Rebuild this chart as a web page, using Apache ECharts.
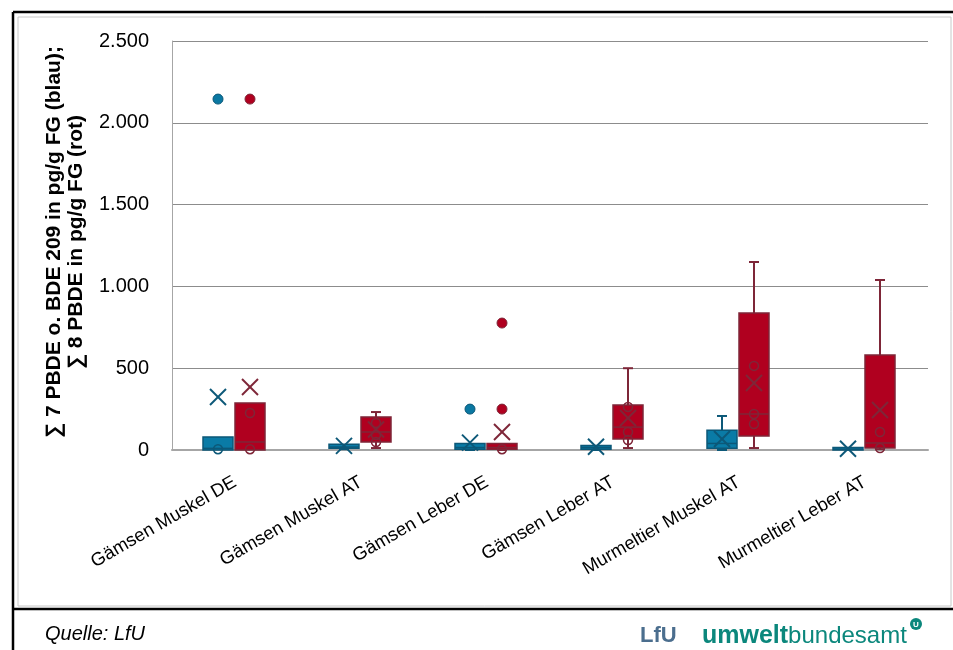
<!DOCTYPE html>
<html><head><meta charset="utf-8">
<script src="https://cdn.jsdelivr.net/npm/echarts@6/dist/echarts.min.js"></script>
<style>html,body{margin:0;padding:0;background:#fff}#c{width:953px;height:650px}</style>
</head><body><div id="c"></div>
<script>
const categories = ['Gämsen Muskel DE','Gämsen Muskel AT','Gämsen Leber DE','Gämsen Leber AT','Murmeltier Muskel AT','Murmeltier Leber AT'];
// [min, Q1, median, Q3, max]
const blueBox = [[0,0,10,80,80],[5,10,18,35,35],[0,5,15,40,40],[0,5,15,28,28],[0,10,40,120,208],[0,0,5,15,15]];
const blueMean = [324,25,45,20,67,8];
const blueInner = [[0,5]];               // [category index, value]
const blueOutliers = [[0,2145],[2,250]];
const redBox = [[0,0,49,287,287],[12,49,110,202,232],[0,5,15,40,40],[12,67,140,275,500],[12,86,220,837,1149],[5,12,43,581,1039]];
const redMean = [385,125,110,196,410,244];
const redInner = [[0,226],[0,5],[1,165],[1,92],[1,49],[2,5],[3,263],[3,110],[3,61],[4,514],[4,220],[4,159],[5,110],[5,12]];
const redOutliers = [[0,2145],[2,776],[2,250]];
const yTitle = '∑ 7 PBDE o. BDE 209 in pg/g FG (blau);\n∑ 8 PBDE in pg/g FG (rot)';
const source = 'Quelle: LfU';

const BLUE = {fill:'#0a7ba6', stroke:'#0c5878', dot:'#0a78a2', off:-17};
const RED = {fill:'#b0001f', stroke:'#7e2638', dot:'#b0001f', off:15};
const FONT = 'Liberation Sans, Arial, sans-serif';

function boxRender(cfg) {
  return function (params, api) {
    const i = api.value(0);
    const v = [api.value(1), api.value(2), api.value(3), api.value(4), api.value(5)];
    const mean = api.value(6);
    const cx = api.coord([i, 0])[0] + cfg.off;
    const y = v.map(t => api.coord([i, t])[1]);
    const ym = api.coord([i, mean])[1];
    const hw = 15, cap = 5, xs = 8;
    const ls = {stroke: cfg.stroke, lineWidth: 2};
    const ch = [];
    if (y[4] < y[3] - 0.5) {
      ch.push({type:'line', shape:{x1:cx, y1:y[3], x2:cx, y2:y[4]}, style:ls});
      ch.push({type:'line', shape:{x1:cx-cap, y1:y[4], x2:cx+cap, y2:y[4]}, style:ls});
    }
    if (y[0] > y[1] + 0.5) {
      ch.push({type:'line', shape:{x1:cx, y1:y[1], x2:cx, y2:y[0]}, style:ls});
      ch.push({type:'line', shape:{x1:cx-cap, y1:y[0], x2:cx+cap, y2:y[0]}, style:ls});
    }
    ch.push({type:'rect', shape:{x:cx-hw, y:y[3], width:2*hw, height:Math.max(y[1]-y[3], 2)},
      style:{fill:cfg.fill, stroke:cfg.stroke, lineWidth:1.5}});
    ch.push({type:'line', shape:{x1:cx-hw, y1:y[2], x2:cx+hw, y2:y[2]}, style:{stroke:cfg.stroke, lineWidth:1.5}});
    ch.push({type:'line', shape:{x1:cx-xs, y1:ym-xs, x2:cx+xs, y2:ym+xs}, style:ls});
    ch.push({type:'line', shape:{x1:cx-xs, y1:ym+xs, x2:cx+xs, y2:ym-xs}, style:ls});
    return {type:'group', children:ch};
  };
}

const chart = echarts.init(document.getElementById('c'), null, {renderer:'canvas'});
chart.setOption({
  animation:false,
  backgroundColor:'#fff',
  grid:{left:172, right:25, top:41, bottom:200, containLabel:false},
  xAxis:{type:'category', data:categories,
    axisLine:{lineStyle:{color:'#a6a6a6', width:2}}, axisTick:{show:false},
    axisLabel:{rotate:30, fontSize:18.5, fontFamily:FONT, color:'#000', margin:31, interval:0},
    splitLine:{show:false}},
  yAxis:{type:'value', min:0, max:2500, interval:500,
    axisLine:{show:true, lineStyle:{color:'#a6a6a6', width:1}}, axisTick:{show:false},
    axisLabel:{fontSize:20, fontFamily:FONT, color:'#000', margin:23,
      formatter:v => String(v).replace(/\B(?=(\d{3})+(?!\d))/g, '.')},
    splitLine:{lineStyle:{color:'#8c8c8c', width:1}}},
  graphic:[
    {type:'rect', shape:{x:18, y:17, width:933, height:589}, style:{fill:'none', stroke:'#c8c8c8', lineWidth:1}},
    {type:'line', shape:{x1:13, y1:12, x2:13, y2:650}, style:{stroke:'#000', lineWidth:2.5}},
    {type:'line', shape:{x1:13, y1:12, x2:953, y2:12}, style:{stroke:'#000', lineWidth:2.5}},
    {type:'line', shape:{x1:13, y1:609, x2:953, y2:609}, style:{stroke:'#000', lineWidth:2.5}},
    {type:'text', x:65, y:242, rotation:Math.PI/2,
      style:{text:yTitle, font:'bold 21px '+FONT, fill:'#000', align:'center', verticalAlign:'middle', lineHeight:22}},
    {type:'text', x:45, y:634, style:{text:source, font:'italic 20px '+FONT, fill:'#000', verticalAlign:'middle'}},
    {type:'text', x:640, y:636, style:{text:'LfU', font:'bold 22px '+FONT, fill:'#4b6e8e', verticalAlign:'middle'}},
    {type:'text', x:702, y:636, style:{text:'{a|umwelt}{b|bundesamt}', verticalAlign:'middle',
      rich:{a:{font:'bold 25px '+FONT, fill:'#0b877c'}, b:{font:'24px '+FONT, fill:'#0b877c'}}}},
    {type:'circle', shape:{cx:916, cy:624, r:6}, style:{fill:'#0b877c'}},
    {type:'text', x:916, y:625, style:{text:'U', font:'bold 8px '+FONT, fill:'#fff', align:'center', verticalAlign:'middle'}}
  ],
  series:[
    {type:'custom', renderItem:boxRender(BLUE), data:blueBox.map((b,i)=>[i, ...b, blueMean[i]]), z:3},
    {type:'custom', renderItem:boxRender(RED), data:redBox.map((b,i)=>[i, ...b, redMean[i]]), z:3},
    {type:'scatter', data:blueInner, symbol:'circle', symbolSize:9, symbolOffset:[BLUE.off,0],
      itemStyle:{color:'rgba(0,0,0,0)', borderColor:BLUE.stroke, borderWidth:1.5, opacity:1}, z:4},
    {type:'scatter', data:redInner, symbol:'circle', symbolSize:9, symbolOffset:[RED.off,0],
      itemStyle:{color:'rgba(0,0,0,0)', borderColor:RED.stroke, borderWidth:1.5, opacity:1}, z:4},
    {type:'scatter', data:blueOutliers, symbol:'circle', symbolSize:10, symbolOffset:[BLUE.off,0],
      itemStyle:{color:BLUE.dot, borderColor:BLUE.stroke, borderWidth:1, opacity:1}, z:4},
    {type:'scatter', data:redOutliers, symbol:'circle', symbolSize:10, symbolOffset:[RED.off,0],
      itemStyle:{color:RED.dot, borderColor:RED.stroke, borderWidth:1, opacity:1}, z:4}
  ]
});
</script></body></html>
